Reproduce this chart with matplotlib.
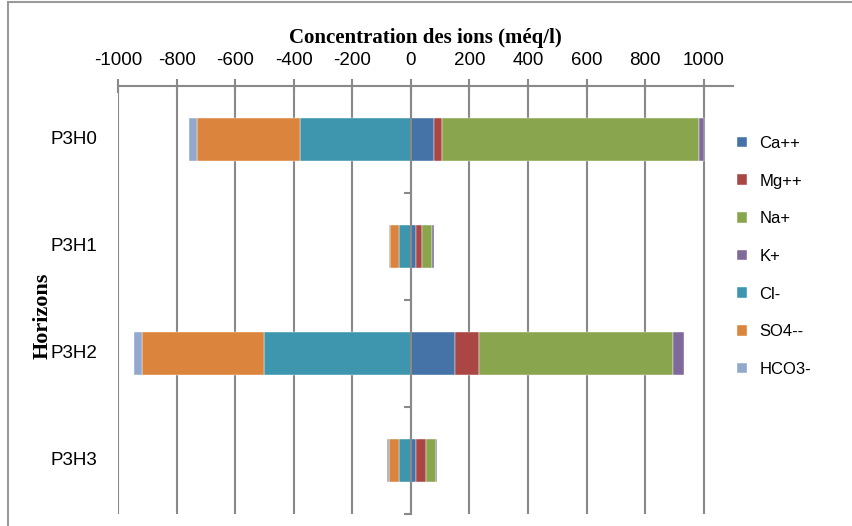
import numpy as np
import matplotlib
matplotlib.use("Agg")
import matplotlib.pyplot as plt
import matplotlib.transforms as mtransforms
from matplotlib.patches import Rectangle

# Horizons du profil et concentrations ioniques (méq/l)
horizons = ["P3H0", "P3H1", "P3H2", "P3H3"]

# cations (à droite de 0)
ca = [78, 16, 152, 16]
mg = [30, 23, 82, 34]
na = [875, 34, 660, 37]
k = [17, 5, 38, 2]

# anions (à gauche de 0)
cl = [-380, -40, -503, -40]
so4 = [-351, -31, -416, -36]
hco3 = [-26, -3, -25, -7]

graduations = list(range(-1000, 1001, 200))

couleurs = {
    "Ca++": "#4572A7",
    "Mg++": "#AA4643",
    "Na+": "#89A54E",
    "K+": "#80699B",
    "Cl-": "#3D96AE",
    "SO4--": "#DB843D",
    "HCO3-": "#92A8CD",
}
gris = "#898989"

plt.rcParams["font.family"] = ["Liberation Sans", "DejaVu Sans"]

fig = plt.figure(figsize=(8.53, 5.26), dpi=100)
ax = fig.add_axes([118 / 853, 1 - 514 / 526, (733 - 118) / 853, (514 - 86) / 526])

y = np.arange(len(horizons))
h = 0.4

# empilement des cations vers la droite
barres = {}
gauche = np.zeros(len(horizons))
for nom, vals in [("Ca++", ca), ("Mg++", mg), ("Na+", na), ("K+", k)]:
    barres[nom] = ax.barh(y, vals, h, left=gauche, color=couleurs[nom],
                          edgecolor="white", linewidth=0.3)
    gauche = gauche + np.array(vals)

# empilement des anions vers la gauche
gauche = np.zeros(len(horizons))
for nom, vals in [("Cl-", cl), ("SO4--", so4), ("HCO3-", hco3)]:
    barres[nom] = ax.barh(y, vals, h, left=gauche, color=couleurs[nom],
                          edgecolor="white", linewidth=0.3)
    gauche = gauche + np.array(vals)

ax.set_xlim(-1000, 1100)
ax.set_ylim(len(horizons) - 0.5, -0.5)

# axe des x en haut, graduations croisées
ax.xaxis.tick_top()
ax.set_xticks(graduations)
ax.set_xticklabels([str(g) for g in graduations], fontsize=13.5)
ax.tick_params(axis="x", direction="inout", length=10, width=1.5, color=gris, pad=7)
ax.grid(axis="x", color=gris, linewidth=1.5)
ax.set_axisbelow(True)

# axe vertical placé sur 0
for s in ["right", "bottom"]:
    ax.spines[s].set_visible(False)
ax.spines["top"].set_color(gris)
ax.spines["top"].set_linewidth(1.5)
ax.spines["left"].set_position(("data", 0))
ax.spines["left"].set_color(gris)
ax.spines["left"].set_linewidth(1.5)
ax.set_yticks(y[:-1] + 0.5)
ax.set_yticks([3.5], minor=True)
ax.yaxis.set_ticklabels([])
ax.tick_params(axis="y", which="both", direction="out", length=5, width=1.5, color=gris)

# étiquettes des horizons à gauche de la zone de tracé
trans = mtransforms.blended_transform_factory(ax.transAxes, ax.transData)
for yi, nom in zip(y, horizons):
    ax.text(-0.034, yi, nom, transform=trans, ha="right", va="center", fontsize=13.5)

fig.text(425 / 853, 1 - 38 / 526, "Concentration des ions (méq/l)", ha="center", va="center",
         fontsize=15, fontweight="bold", family="Liberation Serif")
fig.text(43 / 853, 1 - 316 / 526, "Horizons", rotation=90, ha="center", va="center",
         fontsize=16, fontweight="bold", family="Liberation Serif")

ordre = ["Ca++", "Mg++", "Na+", "K+", "Cl-", "SO4--", "HCO3-"]
fig.legend([barres[n] for n in ordre], ordre, loc="upper left",
           bbox_to_anchor=(722 / 853, 1 - 121 / 526), frameon=False, fontsize=12,
           handlelength=0.6, handleheight=0.6, handletextpad=0.75, labelspacing=1.36)

# cadre du graphique
fig.patches.append(Rectangle((8 / 853, -0.1), 1.2, 1.1 - 1.5 / 526, transform=fig.transFigure,
                             fill=False, edgecolor="#9a9a9a", linewidth=1.5))

fig.savefig("out.png", dpi=100)
